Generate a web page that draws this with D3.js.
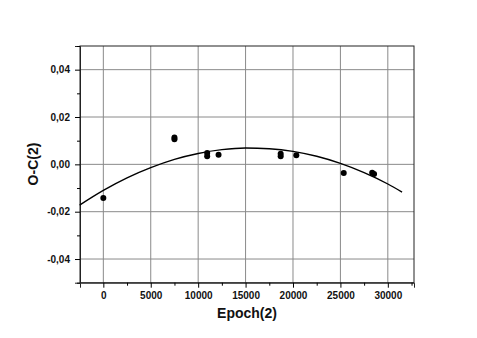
<!DOCTYPE html>
<html><head><meta charset="utf-8">
<script src="https://cdn.jsdelivr.net/npm/d3@7"></script>
<style>body{margin:0;background:#fff}svg{display:block}</style>
</head><body><svg id="c" width="477" height="338"></svg>
<script>
// observed points
const epochs = [0, 7500, 7500, 10950, 10950, 12150, 18700, 18700, 20350, 25350, 28350, 28550];
const ocValues = [-0.0142, 0.0113, 0.0106, 0.0048, 0.0034, 0.0041, 0.0045, 0.0034, 0.0038, -0.0037, -0.0035, -0.0041];
// fitted curve
const fitEpochs = [-2500, 0, 2500, 5000, 7500, 10000, 12500, 15000, 17500, 20000, 22500, 25000, 27500, 30000, 31500];
const fitValues = [-0.0172, -0.0110, -0.0057, -0.0014, 0.0021, 0.0046, 0.0062, 0.0069, 0.0066, 0.0055, 0.0034, 0.0004, -0.0035, -0.0083, -0.0117];
const xTicks = [0, 5000, 10000, 15000, 20000, 25000, 30000];
const xMinor = [-2500, 2500, 7500, 12500, 17500, 22500, 27500, 32500];
const yTicks = [-0.04, -0.02, 0.00, 0.02, 0.04];
const yTickLabels = ["-0,04", "-0,02", "0,00", "0,02", "0,04"];
const yMinor = [-0.05, -0.03, -0.01, 0.01, 0.03, 0.05];
const xLabel = "Epoch(2)";
const yLabel = "O-C(2)";

const FONT = "Arial, 'Liberation Sans', sans-serif";
const svg = d3.select("#c");
const L = 80, R = 414, T = 46, B = 282.7;
const x = d3.scaleLinear().domain([-2460, 32760]).range([L, R]);
const y = d3.scaleLinear().domain([-0.05, 0.05]).range([B, T]);

// grid
const g = svg.append("g");
g.selectAll("line.vx").data(xTicks).join("line")
  .attr("x1", d => x(d)).attr("x2", d => x(d)).attr("y1", T).attr("y2", B)
  .attr("stroke", "#8a8a8a").attr("stroke-width", 1);
g.selectAll("line.hy").data(yTicks).join("line")
  .attr("x1", L).attr("x2", R).attr("y1", d => y(d)).attr("y2", d => y(d))
  .attr("stroke", "#8a8a8a").attr("stroke-width", 1);

// frame
svg.append("rect").attr("x", L).attr("y", T).attr("width", R - L).attr("height", B - T)
  .attr("fill", "none").attr("stroke", "#222").attr("stroke-width", 1);

// axes
const xAxis = d3.axisBottom(x).tickValues(xTicks).tickSize(5).tickPadding(4).tickFormat(d3.format("d"));
const xa = svg.append("g").attr("transform", `translate(0,${B})`).call(xAxis)
  .attr("font-family", FONT).attr("font-size", 10).attr("font-weight", "bold");
xa.select(".domain").attr("stroke", "#222");
xa.selectAll("text").attr("fill", "#111");
svg.append("g").attr("transform", `translate(0,${B})`)
  .call(d3.axisBottom(x).tickValues(xMinor.filter(v => x(v) >= L && x(v) <= R)).tickSize(3).tickFormat(""))
  .select(".domain").remove();

const yAxis = d3.axisLeft(y).tickValues(yTicks).tickSize(5).tickPadding(5)
  .tickFormat((d, i) => yTickLabels[i]);
const ya = svg.append("g").attr("transform", `translate(${L},0)`).call(yAxis)
  .attr("font-family", FONT).attr("font-size", 10).attr("font-weight", "bold");
ya.select(".domain").attr("stroke", "#222");
ya.selectAll("text").attr("fill", "#111");
svg.append("g").attr("transform", `translate(${L},0)`)
  .call(d3.axisLeft(y).tickValues(yMinor).tickSize(3).tickFormat(""))
  .select(".domain").remove();

// fit curve
const line = d3.line().x((d, i) => x(fitEpochs[i])).y((d, i) => y(fitValues[i])).curve(d3.curveMonotoneX);
svg.append("path").datum(fitValues).attr("d", line)
  .attr("fill", "none").attr("stroke", "#000").attr("stroke-width", 1.4);

// points
svg.selectAll("circle.p").data(epochs).join("circle")
  .attr("cx", d => x(d)).attr("cy", (d, i) => y(ocValues[i])).attr("r", 3).attr("fill", "#000");

// labels
svg.append("text").attr("x", 247).attr("y", 318).attr("text-anchor", "middle")
  .attr("font-family", FONT).attr("font-size", "14px").attr("font-weight", "bold").attr("fill", "#111").text(xLabel);
svg.append("text").attr("transform", "translate(38,164) rotate(-90)").attr("text-anchor", "middle")
  .attr("font-family", FONT).attr("font-size", "14px").attr("font-weight", "bold").attr("fill", "#111").text(yLabel);
</script></body></html>
